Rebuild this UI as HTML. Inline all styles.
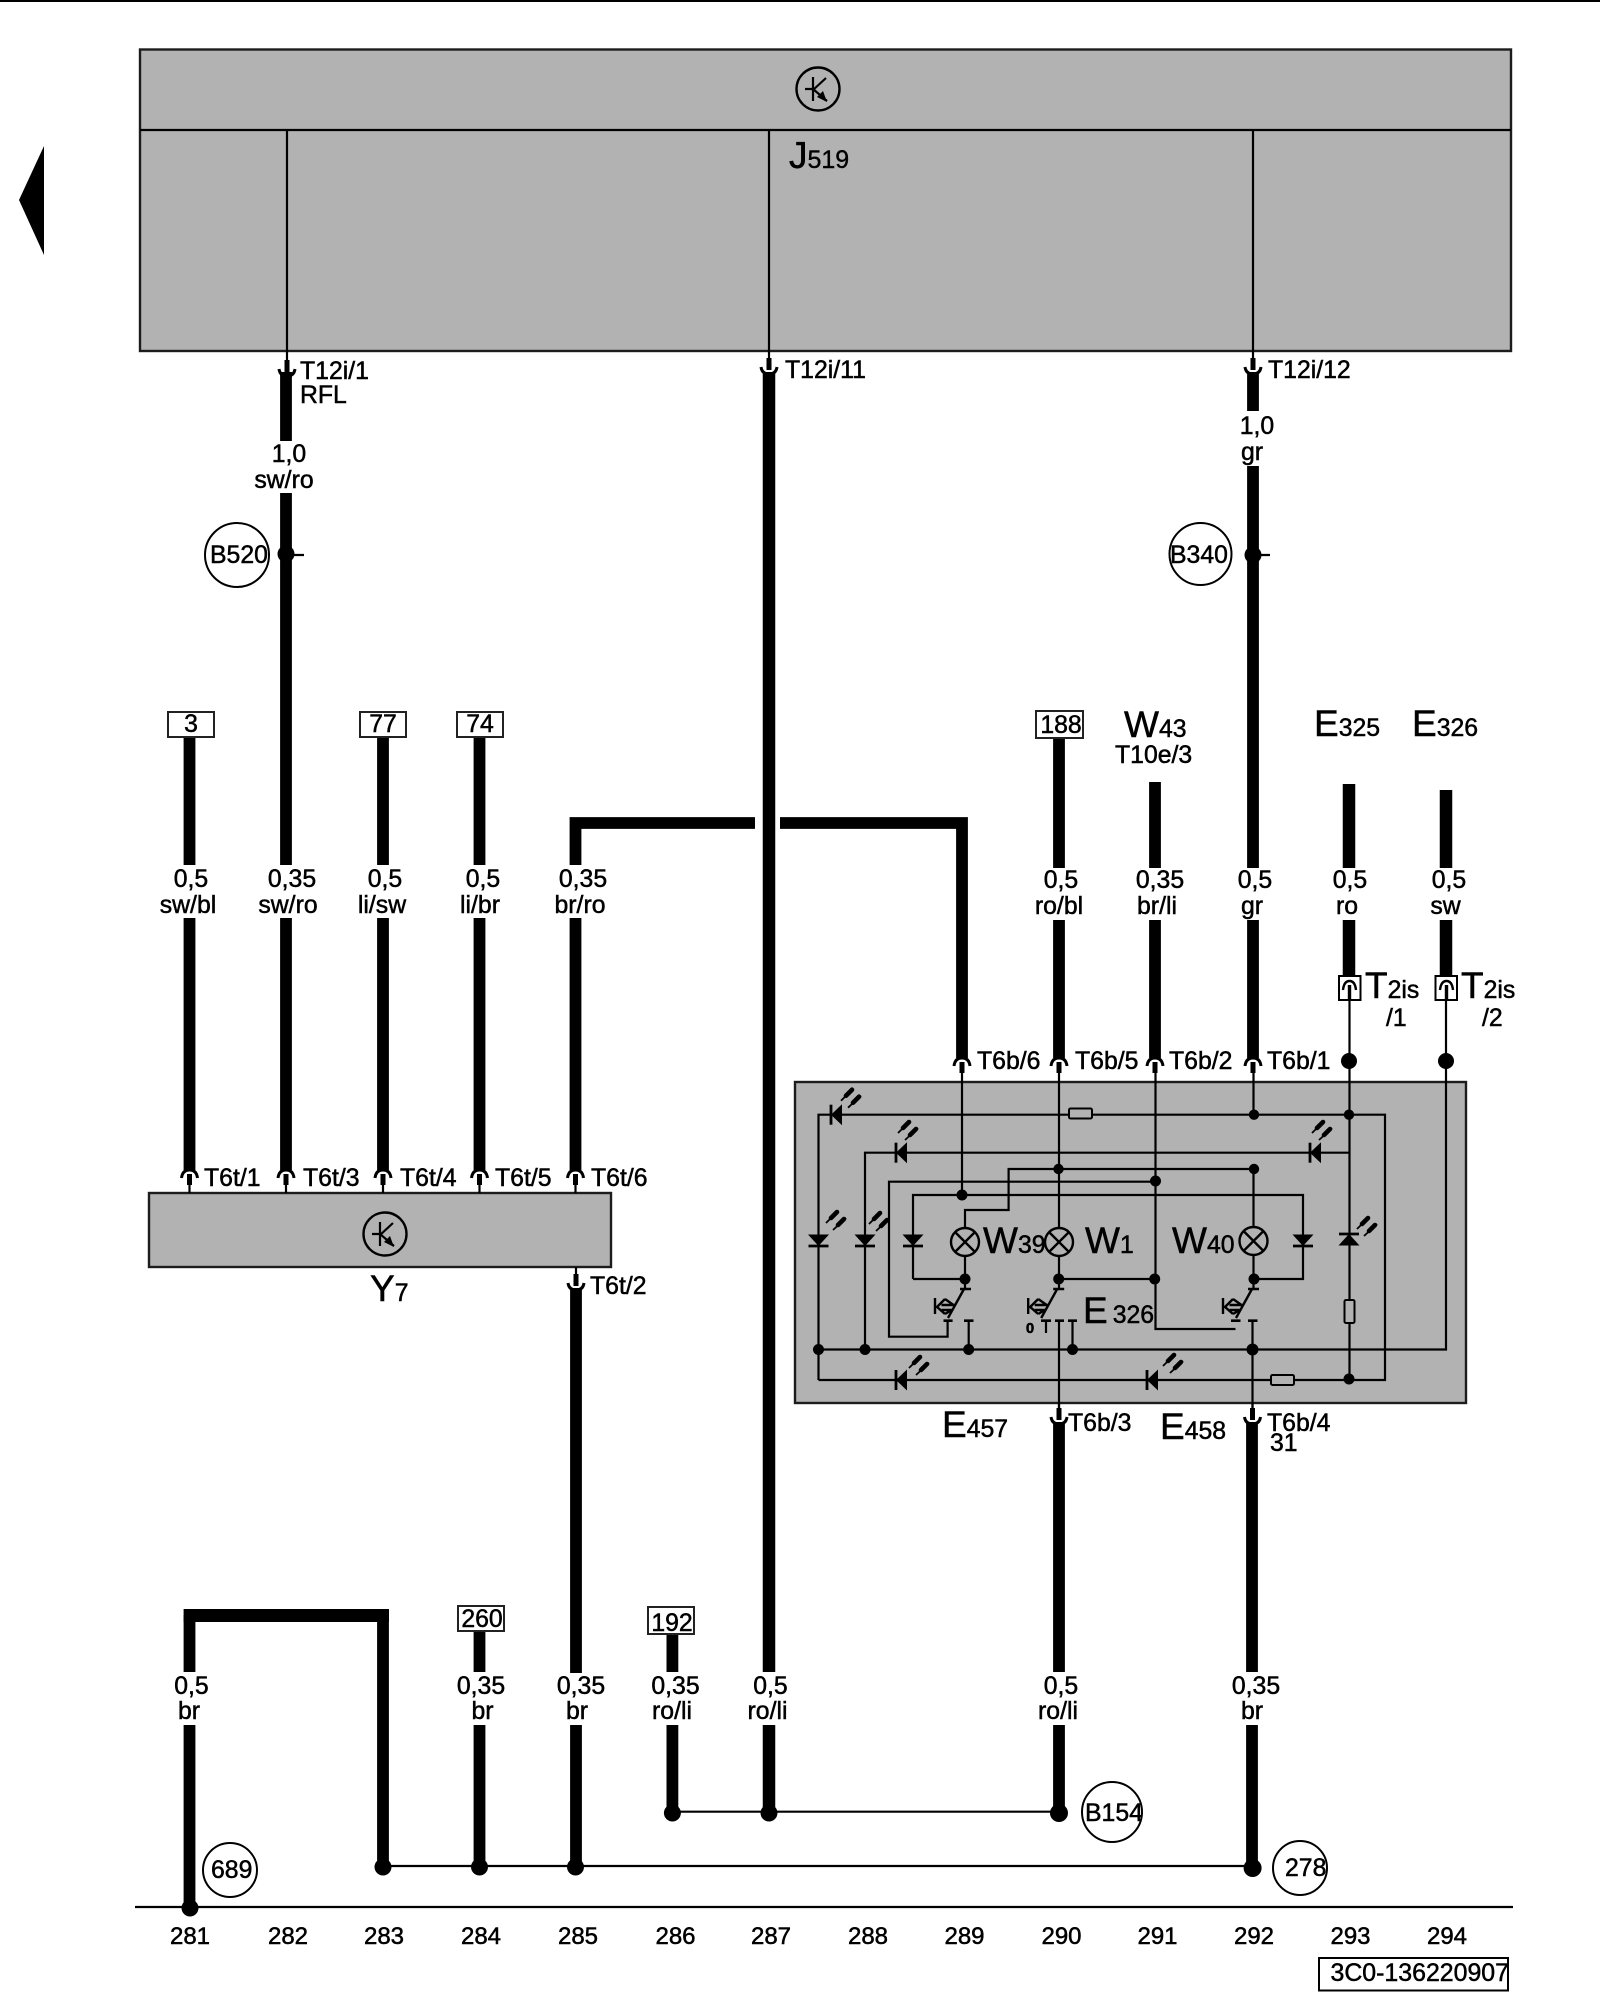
<!DOCTYPE html>
<html lang="de">
<head>
<meta charset="utf-8">
<title>Wiring diagram 3C0-136220907</title>
<style>
html,body{margin:0;padding:0;background:#fff;width:1600px;height:2000px;overflow:hidden}
svg{display:block}
text{font-family:"Liberation Sans",Arial,sans-serif;font-size:24.8px;fill:#000;stroke:#000;stroke-width:.5px}
.m{text-anchor:middle}
.b{font-size:37px}
.s{font-size:24.8px}
.n{font-size:24px}
.l{fill:none;stroke:#000;stroke-width:2.2}
.w{fill:none;stroke:#000;stroke-width:11.8}
.box{fill:#b2b2b2;stroke:#1c1c1c;stroke-width:2.4}
.lab{fill:#fff;stroke:#222;stroke-width:2}
</style>
</head>
<body>
<svg xmlns="http://www.w3.org/2000/svg" width="1600" height="2000" viewBox="0 0 1600 2000">
<defs>
<g id="up"><path d="M-8,8 Q-7,0 0,0 Q7,0 8,8" fill="none" stroke="#000" stroke-width="3"/><rect x="-2.5" y="4" width="5" height="11" fill="#000"/></g>
<g id="dn"><path d="M-8,-7 Q-7,0 0,0 Q7,0 8,-7" fill="none" stroke="#000" stroke-width="3"/><rect x="-2.5" y="-16" width="5" height="12" fill="#000"/></g>
<g id="arrows" stroke="#000" fill="none">
<path d="M6,-14 L18,-26M13,-7 L26,-19" stroke-width="1.8"/>
<path d="M11,-19 L17,-25M18,-12 L24,-18" stroke-width="4.6" stroke-linecap="round"/>
</g>
<g id="dl"><polygon points="-4,0 7,-10.5 7,10.5" fill="#000"/><path d="M-4,-10V10" stroke="#000" stroke-width="2.8"/></g>
<g id="dd"><polygon points="0,6 -10.5,-5.5 10.5,-5.5" fill="#000"/><path d="M-10,6H10" stroke="#000" stroke-width="2.8"/></g>
<g id="du"><polygon points="0,-6 -10.5,5.5 10.5,5.5" fill="#000"/><path d="M-10,-6H10" stroke="#000" stroke-width="2.8"/></g>
<g id="tr" fill="none" stroke="#000" stroke-width="2.2">
<circle r="21.5" stroke-width="2.4"/>
<path d="M-13,0H-5M-5,-12V12M-5,1L8,-11M-5,0L9,12"/>
<polygon points="9,13 -1,8 5,2" fill="#000" stroke="none"/>
</g>
<g id="lamp" fill="#b2b2b2" stroke="#000" stroke-width="2.4">
<ellipse rx="14" ry="14"/><path d="M-10,-10L10,10M-10,10L10,-10" fill="none"/>
</g>
<g id="sw" fill="none" stroke="#000" stroke-width="2.4">
<path d="M-5.5,0H5.5M-1.5,0L-17.5,29M-30.5,9V25M-20.5,10L-28.5,18L-20.5,25M-24,16H-11M-24,21H-13M-20.5,10L-12,16M-20.5,25L-14,21"/>
</g>
</defs>

<rect x="0" y="0" width="1600" height="2" fill="#000"/>
<polygon points="44,146 44,255 19,200" fill="#000"/>

<!-- J519 -->
<rect class="box" x="140" y="49.5" width="1371" height="301.5"/>
<path class="l" d="M140,130H1511M287,130V362M769,130V360M1253,130V360"/>
<use href="#tr" x="818" y="89"/>
<text x="789" y="168" class="b">J<tspan font-size="25" stroke-width=".4">519</tspan></text>

<!-- Upper connectors -->
<use href="#dn" x="287" y="376"/><use href="#dn" x="769" y="374"/><use href="#dn" x="1253" y="374"/>
<text x="300" y="379">T12i/1</text><text x="300" y="403">RFL</text>
<text x="785" y="378">T12i/11</text>
<text x="1268" y="378">T12i/12</text>

<!-- Thick wires -->
<path class="w" d="M286,372V441M286,493V865M286,918V1170"/>
<path class="w" d="M189.5,737V865M189.5,918V1170"/>
<path class="w" d="M383,737V865M383,918V1170"/>
<path class="w" d="M479.5,737V865M479.5,918V1170"/>
<path class="w" d="M575.5,918V1170M575.5,865V823H755M780,823H962V1058"/>
<path class="w" style="stroke-width:12.5" d="M769,372V1672M769,1725V1813"/>
<path class="w" d="M1059,737V868M1059,920V1058"/>
<path class="w" d="M1155,782V868M1155,920V1058"/>
<path class="w" d="M1253,372V411M1253,466V868M1253,920V1058"/>
<path class="w" style="stroke-width:12.5" d="M1349,784V868M1349,920V977"/>
<path class="w" style="stroke-width:12.5" d="M1446,790V868M1446,920V977"/>
<path class="w" d="M576,1288V1673M576,1725V1866"/>
<path class="w" d="M1059,1422V1672M1059,1725V1813"/>
<path class="w" d="M1252,1422V1672M1252,1725V1868"/>
<path class="w" d="M189.5,1672V1615M383,1615V1866"/>
<rect x="183.6" y="1609" width="205.4" height="13" fill="#000"/>
<path class="w" d="M189.5,1725V1908"/>
<path class="w" d="M479.5,1631V1672M479.5,1725V1867"/>
<path class="w" d="M672.4,1634V1672M672.4,1725V1813"/>

<!-- B520 / B340 -->
<circle cx="237" cy="555" r="32" fill="#fff" stroke="#000" stroke-width="2"/>
<text x="210" y="563">B520</text>
<circle cx="286" cy="554" r="8.5" fill="#000"/><path class="l" d="M286,555H304"/>
<circle cx="1200.5" cy="554" r="31" fill="#fff" stroke="#000" stroke-width="2"/>
<text x="1170" y="563">B340</text>
<circle cx="1253" cy="555" r="8.5" fill="#000"/><path class="l" d="M1253,555H1270"/>

<!-- Wire labels upper -->
<text class="m" x="289" y="462">1,0</text><text class="m" x="284" y="488">sw/ro</text>
<text class="m" x="1257" y="434">1,0</text><text class="m" x="1252" y="460">gr</text>

<!-- Lead boxes -->
<rect class="lab" x="168" y="712" width="46" height="25"/><text class="m" x="191" y="732">3</text>
<rect class="lab" x="360" y="712" width="46" height="25"/><text class="m" x="383" y="732">77</text>
<rect class="lab" x="457" y="712" width="46" height="25"/><text class="m" x="480" y="732">74</text>
<rect class="lab" x="1036" y="711" width="47" height="27"/><text class="m" x="1061" y="733">188</text>
<rect class="lab" x="458" y="1606" width="46" height="25"/><text class="m" x="482" y="1627">260</text>
<rect class="lab" x="648" y="1607" width="46" height="27"/><text class="m" x="672" y="1631">192</text>

<!-- Labels row mid left -->
<text class="m" x="191" y="887">0,5</text><text class="m" x="188" y="913">sw/bl</text>
<text class="m" x="292" y="887">0,35</text><text class="m" x="288" y="913">sw/ro</text>
<text class="m" x="385" y="887">0,5</text><text class="m" x="382" y="913">li/sw</text>
<text class="m" x="483" y="887">0,5</text><text class="m" x="480" y="913">li/br</text>
<text class="m" x="583" y="887">0,35</text><text class="m" x="580" y="913">br/ro</text>

<!-- Labels row mid right -->
<text class="m" x="1061" y="888">0,5</text><text class="m" x="1059" y="914">ro/bl</text>
<text class="m" x="1160" y="888">0,35</text><text class="m" x="1157" y="914">br/li</text>
<text class="m" x="1255" y="888">0,5</text><text class="m" x="1252" y="914">gr</text>
<text class="m" x="1350" y="888">0,5</text><text class="m" x="1347" y="914">ro</text>
<text class="m" x="1449" y="888">0,5</text><text class="m" x="1445.5" y="914">sw</text>

<!-- Big top labels -->
<text x="1124" y="737" class="b">W<tspan class="s">43</tspan></text>
<text x="1115" y="763">T10e/3</text>
<text x="1314" y="736" class="b">E<tspan class="s">325</tspan></text>
<text x="1412" y="736" class="b">E<tspan class="s">326</tspan></text>

<!-- T2is connectors -->
<rect x="1339" y="976" width="21.5" height="24" fill="#fff" stroke="#000" stroke-width="2"/>
<rect x="1435.5" y="976" width="21.5" height="24" fill="#fff" stroke="#000" stroke-width="2"/>
<path d="M1343,990 Q1344,981 1349.5,981 Q1355,981 1356,990M1440,990 Q1441,981 1446.5,981 Q1452,981 1453,990" fill="none" stroke="#000" stroke-width="2.4"/>
<path d="M1349.5,985V1000M1446.5,985V1000" stroke="#000" stroke-width="3.4"/>
<text x="1365" y="998" class="b">T<tspan class="s">2is</tspan></text>
<text x="1386" y="1026">/1</text>
<text x="1461" y="998" class="b">T<tspan class="s">2is</tspan></text>
<text x="1482" y="1026">/2</text>

<!-- Y7 -->
<rect class="box" x="149" y="1193" width="462" height="74"/>
<use href="#tr" x="385" y="1234"/>
<text x="370" y="1301" class="b">Y<tspan class="s">7</tspan></text>
<use href="#up" x="189.5" y="1170"/><use href="#up" x="286" y="1170"/><use href="#up" x="383" y="1170"/><use href="#up" x="479.5" y="1170"/><use href="#up" x="575.5" y="1170"/>
<path class="l" d="M189.5,1185V1193M286,1185V1193M383,1185V1193M479.5,1185V1193M575.5,1185V1193M576,1267V1275"/>
<use href="#dn" x="576" y="1290"/>
<text x="204" y="1186">T6t/1</text>
<text x="303" y="1186">T6t/3</text>
<text x="400" y="1186">T6t/4</text>
<text x="495" y="1186">T6t/5</text>
<text x="591" y="1186">T6t/6</text>
<text x="590" y="1294">T6t/2</text>

<!-- Panel E457 / E458 -->
<rect class="box" x="795" y="1082" width="671" height="321"/>
<use href="#up" x="962" y="1058"/><use href="#up" x="1059" y="1058"/><use href="#up" x="1155" y="1058"/><use href="#up" x="1253" y="1058"/>
<text x="977" y="1069">T6b/6</text>
<text x="1075" y="1069">T6b/5</text>
<text x="1169" y="1069">T6b/2</text>
<text x="1267" y="1069">T6b/1</text>

<circle cx="1349" cy="1061" r="8" fill="#000"/><circle cx="1446" cy="1061" r="8" fill="#000"/>

<path class="l" d="M1349.5,1000V1380M1446,1000V1349.5H818.5M818.5,1380V1114.7H1385V1380H818.5"/>
<path class="l" d="M1349,1152.7H865V1349.5"/>
<path class="l" d="M962,1073V1195M1059,1073V1288M1155.5,1073V1329H1235.5M1253.5,1073V1114.7M1253.5,1169V1290"/>
<path class="l" d="M1254,1169H1008.6V1210H965V1228"/>
<path class="l" d="M1155.5,1181.7H889V1336.7H947.6V1320"/>
<path class="l" d="M913,1279V1195H1303V1279H1253M913,1279H965V1289M1059,1279H1155"/>
<path class="l" d="M965,1256V1279"/>
<path class="l" d="M968.7,1320V1350M1072.5,1320V1350M1046,1320V1333M1059,1320V1412M1252.5,1320V1412"/>

<!-- Resistors -->
<rect x="1069" y="1108.5" width="23" height="10" rx="1.5" fill="#b2b2b2" stroke="#000" stroke-width="2"/>
<rect x="1271" y="1375" width="23" height="10" rx="1.5" fill="#b2b2b2" stroke="#000" stroke-width="2"/>
<rect x="1344.5" y="1300" width="10" height="23" rx="1.5" fill="#b2b2b2" stroke="#000" stroke-width="2"/>

<!-- Dots -->
<g fill="#000">
<circle cx="1254" cy="1114.7" r="5.2"/><circle cx="1349" cy="1114.7" r="5.2"/>
<circle cx="1058.5" cy="1169" r="5.2"/><circle cx="1254" cy="1169" r="5.2"/>
<circle cx="1155.5" cy="1181" r="5.5"/><circle cx="962" cy="1195" r="5.5"/>
<circle cx="965" cy="1279" r="5.5"/><circle cx="1058.7" cy="1279" r="5.5"/><circle cx="1154.7" cy="1279" r="5.5"/><circle cx="1254" cy="1279" r="5.5"/>
<circle cx="818.5" cy="1349.5" r="5.5"/><circle cx="865" cy="1349.5" r="5.5"/><circle cx="968.7" cy="1349.5" r="5.5"/><circle cx="1072.5" cy="1349.5" r="5.5"/><circle cx="1252.5" cy="1349.5" r="6"/>
<circle cx="1349" cy="1379" r="5.5"/>
</g>

<!-- LEDs -->
<use href="#dl" x="835" y="1114.7"/><use href="#arrows" x="835" y="1114.7"/>
<use href="#dl" x="900" y="1152.7"/><use href="#arrows" x="892" y="1147"/>
<use href="#dl" x="1314" y="1152.7"/><use href="#arrows" x="1306" y="1147"/>
<use href="#dl" x="900" y="1380"/><use href="#arrows" x="903" y="1382"/>
<use href="#dl" x="1151" y="1380"/><use href="#arrows" x="1157" y="1380"/>
<use href="#dd" x="818.5" y="1240"/><use href="#arrows" x="820" y="1237"/>
<use href="#dd" x="865" y="1240"/><use href="#arrows" x="863" y="1238"/>
<use href="#dd" x="913" y="1240"/>
<use href="#dd" x="1303" y="1240"/>
<use href="#du" x="1349" y="1240"/><use href="#arrows" x="1351" y="1243"/>

<!-- Lamps -->
<use href="#lamp" x="965" y="1242"/><use href="#lamp" x="1059" y="1242"/><use href="#lamp" x="1253.5" y="1241"/>
<text x="983" y="1253" class="b">W<tspan class="s">39</tspan></text>
<text x="1085" y="1253" class="b">W<tspan class="s">1</tspan></text>
<text x="1172" y="1253" class="b">W<tspan class="s">40</tspan></text>

<!-- Switches -->
<use href="#sw" x="965.5" y="1289"/>
<use href="#sw" x="1058.7" y="1289"/>
<use href="#sw" x="1253.5" y="1289"/>
<path d="M943.5,1320.7H952.6M964,1320.7H973.5M1041,1320.7H1051M1055,1320.7H1064M1068,1320.7H1077M1231,1320.7H1240.5M1248,1320.7H1257.5" stroke="#000" stroke-width="2.6" fill="none"/>
<text class="m" x="1030" y="1333" style="font-size:15px;font-weight:bold">0</text>
<text x="1083" y="1323" class="b">E<tspan dx="5" class="s">326</tspan></text>

<!-- Lower labels of panel -->
<text x="942" y="1437" class="b">E<tspan class="s">457</tspan></text>
<text x="1160" y="1439" class="b">E<tspan class="s">458</tspan></text>
<path class="l" d="M1059,1403V1408M1252.5,1403V1408"/>
<use href="#dn" x="1059" y="1424"/><use href="#dn" x="1252.5" y="1424"/>
<text x="1068" y="1431">T6b/3</text>
<text x="1267" y="1431">T6b/4</text>
<text x="1270" y="1451">31</text>

<!-- Lower wire labels -->
<text class="m" x="191.5" y="1694">0,5</text><text class="m" x="189" y="1719">br</text>
<text class="m" x="481" y="1694">0,35</text><text class="m" x="482.5" y="1719">br</text>
<text class="m" x="581" y="1694">0,35</text><text class="m" x="577" y="1719">br</text>
<text class="m" x="675.5" y="1694">0,35</text><text class="m" x="672" y="1719">ro/li</text>
<text class="m" x="770.5" y="1694">0,5</text><text class="m" x="767.5" y="1719">ro/li</text>
<text class="m" x="1061" y="1694">0,5</text><text class="m" x="1058" y="1719">ro/li</text>
<text class="m" x="1256" y="1694">0,35</text><text class="m" x="1252" y="1719">br</text>

<!-- Bottom bus -->
<path class="l" d="M672,1811.7H1059M383,1866H1253"/>
<g fill="#000">
<circle cx="383" cy="1867" r="8.5"/><circle cx="479.5" cy="1867" r="8.5"/><circle cx="575.5" cy="1867" r="8.5"/><circle cx="1252.6" cy="1868" r="9"/>
<circle cx="672.4" cy="1813" r="8.5"/><circle cx="769" cy="1813" r="8.5"/><circle cx="1059" cy="1813" r="9"/>
<circle cx="190" cy="1908" r="8.5"/>
</g>
<path class="l" d="M135,1907H1513"/>

<circle cx="230" cy="1870" r="27" fill="#fff" stroke="#000" stroke-width="2"/>
<text x="211" y="1878">689</text>
<circle cx="1112" cy="1812" r="30" fill="#fff" stroke="#000" stroke-width="2"/>
<text x="1085" y="1821">B154</text>
<circle cx="1300" cy="1868" r="27" fill="#fff" stroke="#000" stroke-width="2"/>
<text x="1285" y="1876">278</text>

<!-- Numbers -->
<text class="m n" x="190" y="1944">281</text>
<text class="m n" x="288" y="1944">282</text>
<text class="m n" x="384" y="1944">283</text>
<text class="m n" x="481" y="1944">284</text>
<text class="m n" x="578" y="1944">285</text>
<text class="m n" x="675.5" y="1944">286</text>
<text class="m n" x="771" y="1944">287</text>
<text class="m n" x="868" y="1944">288</text>
<text class="m n" x="964.5" y="1944">289</text>
<text class="m n" x="1061.5" y="1944">290</text>
<text class="m n" x="1157.5" y="1944">291</text>
<text class="m n" x="1254" y="1944">292</text>
<text class="m n" x="1350.5" y="1944">293</text>
<text class="m n" x="1447" y="1944">294</text>

<rect x="1319" y="1958" width="189" height="32.5" fill="#fff" stroke="#000" stroke-width="2"/>
<text x="1330.5" y="1981" textLength="178.5" lengthAdjust="spacingAndGlyphs">3C0-136220907</text>
</svg>
</body>
</html>
